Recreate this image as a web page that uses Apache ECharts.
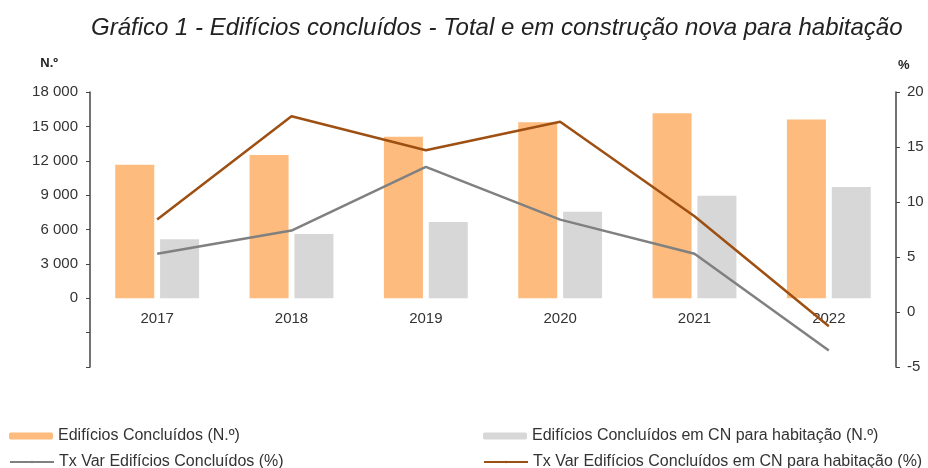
<!DOCTYPE html>
<html>
<head>
<meta charset="utf-8">
<script src="https://cdn.jsdelivr.net/npm/echarts@6/dist/echarts.min.js"></script>
<style>
  html, body { margin: 0; padding: 0; background: #fff; }
  #chart { width: 928px; height: 468px; }
</style>
</head>
<body>
<div id="chart"></div>
<script>
// dados do gráfico
var anos = ['2017', '2018', '2019', '2020', '2021', '2022'];
var edificiosConcluidos = [11650, 12500, 14100, 15350, 16150, 15600];
var edificiosCN = [5150, 5600, 6650, 7550, 8950, 9700];
var txVarConcluidos = [5.3, 7.4, 13.2, 8.4, 5.3, -3.5];
var txVarCN = [8.4, 17.8, 14.7, 17.3, 8.7, -1.3];

var nomes = [
  'Edifícios Concluídos (N.º)',
  'Edifícios Concluídos em CN para habitação (N.º)',
  'Tx Var Edifícios Concluídos (%)',
  'Tx Var Edifícios Concluídos em CN para habitação (%)'
];

var chartDom = document.getElementById('chart');
var myChart = echarts.init(chartDom);

var fonte = 'Liberation Sans, Arial, sans-serif';
var legendText = { color: '#333', fontSize: 16, fontFamily: fonte };

var option = {
  animation: false,
  title: {
    text: 'Gráfico 1 - Edifícios concluídos - Total e em construção nova para habitação',
    left: 86,
    top: 11,
    textStyle: {
      fontSize: 24,
      fontStyle: 'italic',
      fontWeight: 'normal',
      color: '#222',
      fontFamily: fonte
    }
  },
  grid: {
    left: 90,
    right: 32,
    top: 92,
    bottom: 101
  },
  // legendas em duas colunas
  legend: [
    { data: [nomes[0]], left: 9, top: 428, padding: 0, itemWidth: 44, itemHeight: 7, textStyle: legendText },
    { data: [nomes[1]], left: 483, top: 428, padding: 0, itemWidth: 44, itemHeight: 7, textStyle: legendText },
    { data: [nomes[2]], left: 9, top: 454, padding: 0, itemWidth: 44, itemHeight: 3, textStyle: legendText },
    { data: [nomes[3]], left: 483, top: 454, padding: 0, itemWidth: 44, itemHeight: 3, textStyle: legendText }
  ],
  xAxis: {
    type: 'category',
    data: anos,
    offset: -69,  // rótulos junto ao zero do eixo esquerdo
    axisLine: { show: false, onZero: false },
    axisTick: { show: false },
    axisLabel: {
      color: '#333',
      fontSize: 15,
      fontFamily: fonte,
      margin: 13
    }
  },
  yAxis: [
    {
      type: 'value',
      name: 'N.º',
      nameLocation: 'end',
      nameGap: 22,
      nameTextStyle: { color: '#222', fontWeight: 'bold', fontSize: 13, fontFamily: fonte, align: 'right', padding: [0, 32, 0, 0] },
      min: -6000,
      max: 18000,
      interval: 3000,
      axisLine: { show: true, lineStyle: { color: '#444', width: 1.5 } },
      axisTick: { show: true, length: 4, lineStyle: { color: '#444' } },
      splitLine: { show: false },
      axisLabel: {
        color: '#333',
        fontSize: 15,
        fontFamily: fonte,
        margin: 12,
        formatter: function (v) {
          if (v < 0) return '';
          return String(v).replace(/\B(?=(\d{3})+(?!\d))/g, ' ');
        }
      }
    },
    {
      type: 'value',
      name: '%',
      nameLocation: 'end',
      nameGap: 20,
      nameTextStyle: { color: '#222', fontWeight: 'bold', fontSize: 13, fontFamily: fonte, align: 'left', padding: [0, 0, 0, 2] },
      min: -5,
      max: 20,
      interval: 5,
      axisLine: { show: true, lineStyle: { color: '#444', width: 1.5 } },
      axisTick: { show: true, length: 4, lineStyle: { color: '#444' } },
      splitLine: { show: false },
      axisLabel: {
        color: '#333',
        fontSize: 15,
        fontFamily: fonte,
        margin: 11
      }
    }
  ],
  series: [
    {
      name: nomes[0],
      type: 'bar',
      data: edificiosConcluidos,
      barWidth: 39,
      barGap: '15%',
      itemStyle: { color: '#fdbb7d' }
    },
    {
      name: nomes[1],
      type: 'bar',
      data: edificiosCN,
      barWidth: 39,
      itemStyle: { color: '#d7d7d7' }
    },
    {
      name: nomes[2],
      type: 'line',
      yAxisIndex: 1,
      data: txVarConcluidos,
      symbol: 'none',
      z: 5,
      lineStyle: { color: '#808080', width: 2.5 },
      itemStyle: { color: '#808080' }
    },
    {
      name: nomes[3],
      type: 'line',
      yAxisIndex: 1,
      data: txVarCN,
      symbol: 'none',
      z: 6,
      lineStyle: { color: '#9e4f12', width: 2.5 },
      itemStyle: { color: '#9e4f12' }
    }
  ]
};

myChart.setOption(option);
</script>
</body>
</html>
